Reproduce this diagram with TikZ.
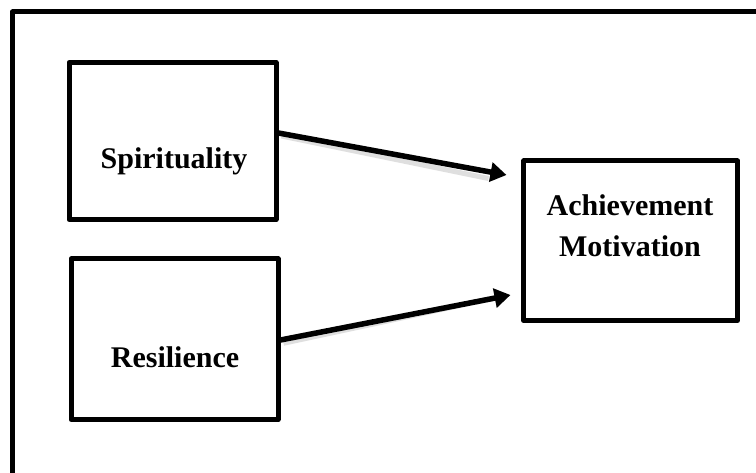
\documentclass[tikz,border=0pt]{standalone}
\usepackage{fontspec}
\setmainfont{Liberation Serif}
\usetikzlibrary{arrows.meta,calc}
\begin{document}
\begin{tikzpicture}[x=1pt,y=-1pt,
  box/.style={draw=black,line width=5pt,line join=round,inner sep=0pt,fill=white},
  lbl/.style={font=\fontsize{30}{40.7}\selectfont\bfseries,inner sep=0pt,align=center},
  arr/.style={line width=5.5pt,-{Triangle[length=16pt,width=19pt]}},
  shadowline/.style={line width=5pt,draw=gray!25}]
\useasboundingbox (0,0) rectangle (756,473);
\fill[white] (0,0) rectangle (756,473);
\begin{scope}
  \clip (0,0) rectangle (756,473);
  \draw[line width=5pt,line join=round] (12.5,12) rectangle (800,520);
\end{scope}
\node[box,minimum width=207pt,minimum height=157pt] (spir) at (172.5,141) {};
\node[box,minimum width=207pt,minimum height=160.5pt] (res) at (174.5,339.25) {};
\node[box,minimum width=213.8pt,minimum height=159.5pt] (ach) at (630.6,240.75) {};
\node[lbl,anchor=base] (spirt) at (174,169) {Spirituality};
\node[lbl,anchor=base] (rest) at (175,367.7) {Resilience};
\node[lbl,anchor=base] (acht) at (630,216) {Achievement};
\node[lbl,anchor=base] (mott) at (630,256.7) {Motivation};
\coordinate (t1) at ([xshift=-14.7pt,yshift=65.75pt]ach.west);
\coordinate (t2) at ([xshift=-10.7pt,yshift=-54.25pt]ach.west);
\draw[shadowline] ([xshift=3pt,yshift=5pt]spir.east) -- ([xshift=-18pt,yshift=-3.5pt]t1);
\draw[shadowline] ([xshift=3pt,yshift=-4pt]res.east) -- ([xshift=-18pt,yshift=-3.5pt]t2);
\draw[arr] ([yshift=8pt]spir.east) -- (t1);
\draw[arr] ([yshift=-0.75pt]res.east) -- (t2);
\end{tikzpicture}
\end{document}
